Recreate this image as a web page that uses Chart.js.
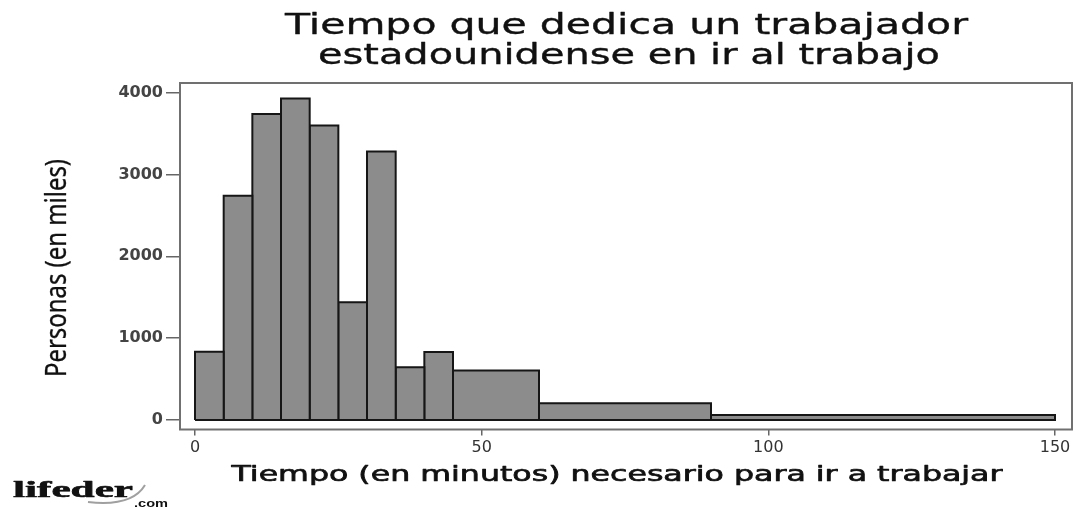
<!DOCTYPE html>
<html><head><meta charset="utf-8">
<script src="https://cdn.jsdelivr.net/npm/chart.js@4.4.1/dist/chart.umd.min.js"></script>
<style>html,body{margin:0;padding:0;background:#fff;} #wrap{position:relative;width:1089px;height:510px;}</style>
</head><body><div id="wrap"><canvas id="c"></canvas></div>
<script>
const binEdges = [0, 5, 10, 15, 20, 25, 30, 35, 40, 45, 60, 90, 150];
const binValues = [835, 2740, 3740, 3930, 3600, 1440, 3280, 645, 830, 605, 205, 60];
const xTicks = [0, 50, 100, 150];
const yTicks = [0, 1000, 2000, 3000, 4000];
const titleLines = ['Tiempo que dedica un trabajador', 'estadounidense en ir al trabajo'];
const xTitle = 'Tiempo (en minutos) necesario para ir a trabajar';
const yTitle = 'Personas (en miles)';
const logoText = 'lifeder';
const logoSuffix = '.com';

const datasets = binValues.map((v, i) => ({
  type: 'line',
  data: [
    {x: binEdges[i], y: 0}, {x: binEdges[i], y: v},
    {x: binEdges[i + 1], y: v}, {x: binEdges[i + 1], y: 0}, {x: binEdges[i], y: 0}
  ],
  fill: 'shape',
  backgroundColor: '#8c8c8c',
  borderColor: '#161616',
  borderWidth: 2,
  borderJoinStyle: 'miter',
  pointRadius: 0,
  pointHoverRadius: 0,
  tension: 0
}));

function stretchText(ctx, text, cx, cy, font, targetW, angle, color, strokeW) {
  ctx.save();
  ctx.font = font;
  ctx.fillStyle = color;
  ctx.strokeStyle = color;
  ctx.textAlign = 'center';
  ctx.textBaseline = 'alphabetic';
  const w = ctx.measureText(text).width;
  ctx.translate(cx, cy);
  if (angle) ctx.rotate(angle);
  ctx.scale(targetW / w, 1);
  ctx.fillText(text, 0, 0);
  if (strokeW) { ctx.lineWidth = strokeW; ctx.lineJoin = 'round'; ctx.strokeText(text, 0, 0); }
  ctx.restore();
}

const decor = {
  id: 'decor',
  afterDraw(chart) {
    const ctx = chart.ctx, a = chart.chartArea;
    ctx.save();
    ctx.strokeStyle = '#707070';
    ctx.lineWidth = 2;
    ctx.strokeRect(a.left, a.top, a.right - a.left, a.bottom - a.top);
    ctx.restore();
    stretchText(ctx, titleLines[0], 626.5, 34, '28px "DejaVu Sans"', 683, 0, '#111', 0.35);
    stretchText(ctx, titleLines[1], 629, 64, '28px "DejaVu Sans"', 622, 0, '#111', 0.35);
    stretchText(ctx, xTitle, 617, 481, '22px "DejaVu Sans"', 771, 0, '#111', 0.7);
    stretchText(ctx, yTitle, 66, 268, '29px "Noto Sans"', 218, -Math.PI / 2, '#111', 0.3);
    // logo
    ctx.save();
    ctx.strokeStyle = '#a0a0a0';
    ctx.lineWidth = 2;
    ctx.beginPath();
    ctx.moveTo(88, 502);
    ctx.quadraticCurveTo(132, 507, 145, 485);
    ctx.stroke();
    ctx.restore();
    stretchText(ctx, logoText, 73, 497, 'bold 23px "Liberation Serif"', 120, 0, '#111', 0.6);
    stretchText(ctx, logoSuffix, 151, 507, 'bold 10px "Liberation Sans"', 34, 0, '#111', 0);
  }
};

new Chart(document.getElementById('c'), {
  type: 'line',
  data: { datasets },
  options: {
    responsive: true,
    maintainAspectRatio: false,
    animation: false,
    events: [],
    layout: { padding: { top: 83, right: 17, left: 0, bottom: 0 } },
    plugins: { legend: { display: false }, tooltip: { enabled: false }, title: { display: false } },
    scales: {
      x: {
        type: 'linear', min: -2.62, max: 152.97,
        afterBuildTicks: s => { s.ticks = xTicks.map(v => ({ value: v })); },
        afterFit: s => { s.height = 80.5; },
        ticks: { font: { family: 'DejaVu Sans', size: 16 }, color: '#333', padding: 3, maxRotation: 0, autoSkip: false, callback: v => String(v) },
        grid: { drawOnChartArea: false, drawTicks: true, tickLength: 6, color: '#666', lineWidth: 1.5 },
        border: { display: false }
      },
      y: {
        type: 'linear', min: -116, max: 4118,
        afterBuildTicks: s => { s.ticks = yTicks.map(v => ({ value: v })); },
        afterFit: s => { s.width = 180; },
        ticks: { font: { family: 'DejaVu Sans', size: 16, weight: 'bold' }, color: '#444', padding: 3, autoSkip: false, callback: v => String(v) },
        grid: { drawOnChartArea: false, drawTicks: true, tickLength: 14, color: '#666', lineWidth: 1.5 },
        border: { display: false }
      }
    }
  },
  plugins: [decor]
});
</script>
</body></html>
